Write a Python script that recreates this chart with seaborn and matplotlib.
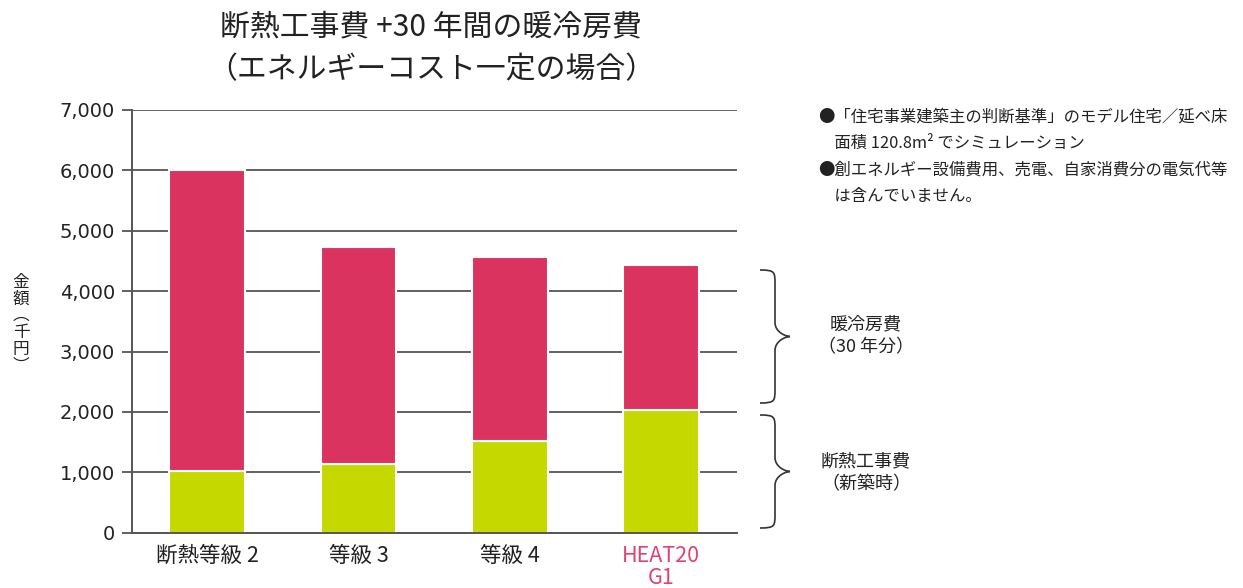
import numpy as np
import pandas as pd
import matplotlib
matplotlib.use("Agg")
import matplotlib.pyplot as plt
import matplotlib.transforms as mtransforms
from matplotlib.path import Path
from matplotlib.patches import PathPatch
import seaborn as sns

# ---------------- data ----------------
categories = ["断熱等級 2", "等級 3", "等級 4", "HEAT20\nG1"]
insulation_cost = [1030, 1145, 1525, 2025]          # 断熱工事費（新築時）
heating_cooling_cost = [4970, 3585, 3040, 2410]     # 暖冷房費（30年分）
ytick_values = [0, 1000, 2000, 3000, 4000, 5000, 6000, 7000]
ytick_labels = ["0", "1,000", "2,000", "3,000", "4,000", "5,000", "6,000", "7,000"]

title_lines = ["断熱工事費 +30 年間の暖冷房費", "（エネルギーコスト一定の場合）"]
ylabel = "金\n額\n︵\n千\n円\n︶"
notes = ["●「住宅事業建築主の判断基準」のモデル住宅／延べ床",
         "　面積 120.8m² でシミュレーション",
         "●創エネルギー設備費用、売電、自家消費分の電気代等",
         "　は含んでいません。"]
brace_labels = ["暖冷房費\n（30 年分）", "断熱工事費\n（新築時）"]

GREEN = "#C5D800"
RED = "#DB3360"
ACCENT = "#E0436E"
TEXT = "#222222"
GRID = "#555555"

sns.set_theme(style="white")
plt.rcParams['font.family'] = ['Noto Sans CJK JP', 'DejaVu Sans']

W, H = 1243, 588
fig = plt.figure(figsize=(W / 100, H / 100), dpi=100)
ax = fig.add_axes([131.5 / W, 1 - 532.7 / H, (737 - 131.5) / W, (532.7 - 110) / H])

df = pd.DataFrame({"cat": categories, "ins": insulation_cost, "hc": heating_cooling_cost})

sns.barplot(data=df, x="cat", y="ins", order=categories, color=GREEN, saturation=1,
            width=0.5, edgecolor="white", linewidth=1.5, ax=ax)
sns.barplot(data=df, x="cat", y="hc", order=categories, color=RED, saturation=1,
            width=0.5, edgecolor="white", linewidth=1.5, bottom=df["ins"].to_numpy(), ax=ax)

ax.set_xlim(-0.5, len(categories) - 0.5)
ax.set_ylim(0, 7000)
ax.set_yticks(ytick_values)
ax.set_yticklabels(ytick_labels, fontfamily="DejaVu Sans")
ax.set_xlabel("")
ax.set_ylabel("")

ax.set_axisbelow(True)
ax.yaxis.grid(True, color=GRID, linewidth=1.3)
ax.xaxis.grid(False)
for s in ["top", "right"]:
    ax.spines[s].set_visible(False)
for s in ["left", "bottom"]:
    ax.spines[s].set_color(GRID)
    ax.spines[s].set_linewidth(1.4)

ax.tick_params(axis="y", left=True, length=7, width=1.3, color=GRID, direction="out",
               labelsize=14, labelcolor=TEXT, pad=5)
ax.tick_params(axis="x", bottom=False, length=0, labelsize=15.5, labelcolor=TEXT, pad=9)
for lab in ax.get_xticklabels():
    lab.set_linespacing(1.0)
    if lab.get_text().startswith("HEAT20"):
        lab.set_color(ACCENT)

# title
fig.text(431 / W, 1 - 27 / H, title_lines[0], ha="center", va="center", fontsize=21.5, color=TEXT)
fig.text(431 / W, 1 - 70 / H, title_lines[1], ha="center", va="center", fontsize=21.5, color=TEXT)

# y label (vertical writing)
fig.text(21 / W, 1 - 324 / H, ylabel, ha="center", va="center", fontsize=12,
         color=TEXT, linespacing=0.98)

# notes
for i, line in enumerate(notes):
    fig.text(818 / W, 1 - (117 + 26.5 * i) / H, line, ha="left", va="center",
             fontsize=11.8, color=TEXT)

# braces
pix = mtransforms.Affine2D().scale(1 / W, -1 / H).translate(0, 1) + fig.transFigure


def brace(xl, ytop, ybot, d=15, r=14):
    xv, xt = xl + d, xl + 2 * d
    ym = (ytop + ybot) / 2
    verts = [(xl, ytop),
             (xv, ytop), (xv, ytop + 2), (xv, ytop + r),
             (xv, ym - r),
             (xv, ym - r * 0.3), (xt - 4, ym), (xt, ym),
             (xt - 4, ym), (xv, ym + r * 0.3), (xv, ym + r),
             (xv, ybot - r),
             (xv, ybot - 2), (xv, ybot), (xl, ybot)]
    codes = [Path.MOVETO,
             Path.CURVE4, Path.CURVE4, Path.CURVE4,
             Path.LINETO,
             Path.CURVE4, Path.CURVE4, Path.CURVE4,
             Path.CURVE4, Path.CURVE4, Path.CURVE4,
             Path.LINETO,
             Path.CURVE4, Path.CURVE4, Path.CURVE4]
    p = PathPatch(Path(verts, codes), transform=pix, fill=False, edgecolor="#333333",
                  linewidth=1.2, clip_on=False)
    fig.add_artist(p)


brace(760, 270, 403)
brace(760, 415, 528)

fig.text(866 / W, 1 - 336 / H, brace_labels[0], ha="center", va="center", fontsize=13,
         color=TEXT, linespacing=1.35)
fig.text(866 / W, 1 - 473 / H, brace_labels[1], ha="center", va="center", fontsize=13,
         color=TEXT, linespacing=1.35)

fig.savefig("out.png", dpi=100, facecolor="white")
